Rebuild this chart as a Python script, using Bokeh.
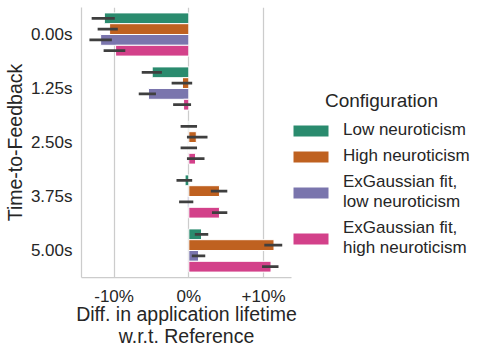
from bokeh.plotting import figure
from bokeh.models import (ColumnDataSource, FactorRange, Range1d, Legend, LegendItem,
                          FixedTicker)
from bokeh.transform import dodge
from bokeh.embed import file_html
from bokeh.resources import INLINE

# ---- data (percent difference w.r.t. reference) ----
times = ["0.00s", "1.25s", "2.50s", "3.75s", "5.00s"]
configs = ["Low neuroticism", "High neuroticism",
           "ExGaussian fit,\nlow neuroticism", "ExGaussian fit,\nhigh neuroticism"]
legend_title = "Configuration"
colors = ["#2a8b6e", "#bf6120", "#7a75ad", "#d3418a"]

low_neuro = [-11.3, -4.9, 0.05, -0.5, 1.7]
low_neuro_lo = [-13.0, -6.3, -1.1, -1.65, 0.8]
low_neuro_hi = [-9.9, -3.6, 1.1, 0.45, 2.6]

high_neuro = [-10.6, -0.85, 1.0, 4.1, 11.4]
high_neuro_lo = [-12.2, -2.3, -0.25, 2.95, 10.1]
high_neuro_hi = [-9.5, 0.45, 2.5, 5.15, 12.5]

exg_low = [-11.8, -5.4, -0.05, -0.2, 1.3]
exg_low_lo = [-13.3, -6.7, -1.1, -1.3, 0.4]
exg_low_hi = [-10.3, -4.4, 1.1, 0.6, 2.2]

exg_high = [-9.8, -0.7, 0.9, 4.1, 11.0]
exg_high_lo = [-11.4, -2.1, -0.25, 3.1, 9.8]
exg_high_hi = [-8.5, 0.3, 2.1, 5.15, 12.0]

x_ticks = [-10, 0, 10]
x_tick_labels = ["-10%", "0%", "+10%"]

series = [(low_neuro, low_neuro_lo, low_neuro_hi),
          (high_neuro, high_neuro_lo, high_neuro_hi),
          (exg_low, exg_low_lo, exg_low_hi),
          (exg_high, exg_high_lo, exg_high_hi)]
offsets = [0.3, 0.1, -0.1, -0.3]

FONT = "Liberation Sans"
TXT = "#262626"
GRID = "#cccccc"

p = figure(frame_width=210, frame_height=270, output_backend="svg", toolbar_location=None,
           y_range=FactorRange(factors=list(reversed(times))),
           x_range=Range1d(-14.36, 13.74),
           min_border_left=0, min_border_right=0, min_border_top=7, min_border_bottom=0)
p.outline_line_color = None
p.background_fill_color = "white"

items = []
for (vals, lo, hi), off, col, name in zip(series, offsets, colors, configs):
    src = ColumnDataSource(dict(t=times, v=vals, lo=lo, hi=hi))
    r = p.hbar(y=dodge("t", off, range=p.y_range), left=0, right="v", height=0.2,
               source=src, fill_color=col, line_color="white", line_width=1)
    p.segment(x0="lo", x1="hi", y0=dodge("t", off, range=p.y_range),
              y1=dodge("t", off, range=p.y_range), source=src,
              line_color="#3f3f3f", line_width=2.7)
    items.append(LegendItem(label=name, renderers=[r]))

p.xaxis.ticker = FixedTicker(ticks=x_ticks)
p.xaxis.major_label_overrides = {t: l for t, l in zip(x_ticks, x_tick_labels)}
p.xaxis.axis_label = "Diff. in application lifetime\nw.r.t. Reference"
p.yaxis.axis_label = "Time-to-Feedback"

for ax in (p.xaxis[0], p.yaxis[0]):
    ax.axis_line_color = GRID
    ax.axis_line_width = 1.25
    ax.major_tick_line_color = None
    ax.minor_tick_line_color = None
    ax.major_tick_out = 0
    ax.major_tick_in = 0
    ax.minor_tick_out = 0
    ax.major_label_text_font = FONT
    ax.major_label_text_font_size = "17px"
    ax.major_label_text_color = TXT
    ax.axis_label_text_font = FONT
    ax.axis_label_text_font_size = "19.5px"
    ax.axis_label_text_font_style = "normal"
    ax.axis_label_text_color = TXT

p.xaxis.major_label_standoff = 9
p.xaxis.axis_label_standoff = -6
p.xaxis.axis_label_text_line_height = 1.0
p.yaxis.major_label_standoff = 9
p.yaxis.axis_label_standoff = 2

p.xgrid.grid_line_color = GRID
p.xgrid.grid_line_width = 1.25
p.ygrid.grid_line_color = None

# title indented with no-break spaces so that it sits centred over the entries
legend = Legend(items=items, location=(-3, 19), title="\u00a0" * 7 + legend_title,
                border_line_color=None, background_fill_alpha=0,
                label_text_font=FONT, label_text_font_size="17px", label_text_color=TXT,
                title_text_font=FONT, title_text_font_size="19px", title_text_color=TXT,
                title_text_font_style="normal",
                glyph_width=45, glyph_height=15, label_standoff=10,
                spacing=6, padding=0, margin=0, title_standoff=8)
p.add_layout(legend, "right")

open("out.html", "w").write(file_html(p, INLINE))
